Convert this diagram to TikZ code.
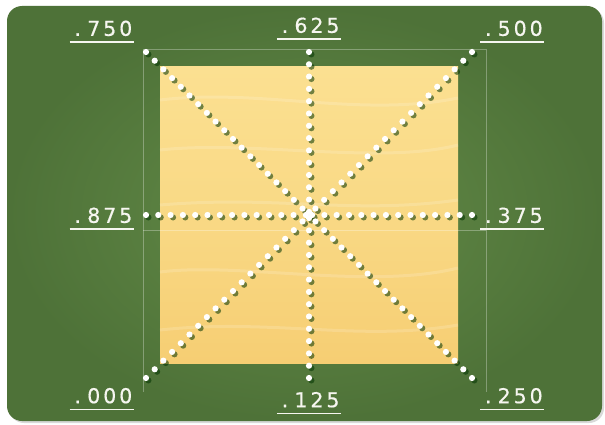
\documentclass[tikz,border=0pt]{standalone}
\usepackage{fontspec}
\usetikzlibrary{positioning}
\newfontfamily\tagfont[FakeBold=0.5]{DejaVu Sans}
\definecolor{grass}{RGB}{100,140,72}
\definecolor{grassdark}{RGB}{78,114,56}
\definecolor{woodlight}{RGB}{251,224,145}
\definecolor{wood}{RGB}{246,206,115}
\definecolor{tagwhite}{RGB}{246,246,240}
% each character in a fixed cell, like spaced monospace
\def\spaced#1{\spacedloop#1\relax}
\def\spacedloop#1{\ifx#1\relax\else\makebox[16pt]{#1}\expandafter\spacedloop\fi}
\tikzset{
  dots/.style={draw=white,line width=6.2pt,line cap=round,dash pattern=on 0pt off 12.3pt},
  dotshade/.style={dots,draw=black!80!green,opacity=.55},
  guide/.style={draw=white,opacity=.3,line width=.6pt},
  grain/.style={draw=white,opacity=.16,line width=3pt},
  tag/.style={font=\tagfont\fontsize{20.5}{24}\selectfont,text=tagwhite,inner sep=0pt,
              minimum width=64pt,text height=15pt,text depth=6pt},
  uline/.style={draw=tagwhite,line width=1.6pt}
}
\begin{document}
\begin{tikzpicture}[x=1pt,y=-1pt]
    \useasboundingbox[fill=white] (0,0) rectangle (605,425);
    % --- grass panel and board
    \fill[black,opacity=.15,rounded corners=15pt] (9,8) rectangle (604,423);
    \shade[rounded corners=15pt,inner color=grass,outer color=grassdark] (7,6) rectangle (602,421);
    \shade[top color=woodlight,bottom color=wood,middle color=woodlight!60!wood] (160,67) rectangle (458,363);
    \draw[grain] (160,100) .. controls (260,88) and (360,118) .. (458,98);
    \draw[grain] (160,150) .. controls (250,140) and (380,165) .. (458,145);
    \draw[grain] (160,205) .. controls (280,195) and (350,215) .. (458,200);
    \draw[grain] (160,272) .. controls (240,262) and (370,290) .. (458,268);
    \draw[grain] (160,330) .. controls (270,318) and (360,342) .. (458,325);
    \draw[guide] (143,392) -- (143,49) -- (486,49) -- (486,392);
    \draw[guide] (143,230) -- (486,230);
    % --- ray ends
    \coordinate (c)  at (309,215);
    \coordinate (tl) at (146,52);
    \coordinate (t)  at (309,52);
    \coordinate (tr) at (472,52);
    \coordinate (r)  at (472,215);
    \coordinate (br) at (472,378);
    \coordinate (b)  at (309,378);
    \coordinate (bl) at (146,378);
    \coordinate (l)  at (146,215);
    % --- dotted rays
    \begin{scope}[transform canvas={shift={(2.4,2.4)}}]
      \foreach \e in {tl,t,tr,r,br,b,bl,l}
        \draw[dotshade] (\e) -- (c);
    \end{scope}
    \foreach \e in {tl,t,tr,r,br,b,bl,l}
      \draw[dots] (\e) -- (c);
    % --- readings
    \node[tag,anchor=south east] (t750) at ([shift={(-12,-10)}]tl) {\spaced{.750}};
    \node[tag,anchor=south]      (t625) at ([shift={(0,-13)}]t)    {\spaced{.625}};
    \node[tag,anchor=south west] (t500) at ([shift={(8,-10)}]tr)   {\spaced{.500}};
    \node[tag,anchor=south east] (t875) at ([shift={(-12,14)}]l)   {\spaced{.875}};
    \node[tag,anchor=south west] (t375) at ([shift={(8,14)}]r)     {\spaced{.375}};
    \node[tag,anchor=north east] (t000) at ([shift={(-12,10)}]bl)  {\spaced{.000}};
    \node[tag,anchor=north]      (t125) at ([shift={(0,14)}]b)     {\spaced{.125}};
    \node[tag,anchor=north west] (t250) at ([shift={(8,10)}]br)    {\spaced{.250}};
    \foreach \n in {t750,t625,t500,t875,t375,t000,t125,t250}
      \draw[uline] (\n.south west) -- (\n.south east);
  \end{tikzpicture}
\end{document}
